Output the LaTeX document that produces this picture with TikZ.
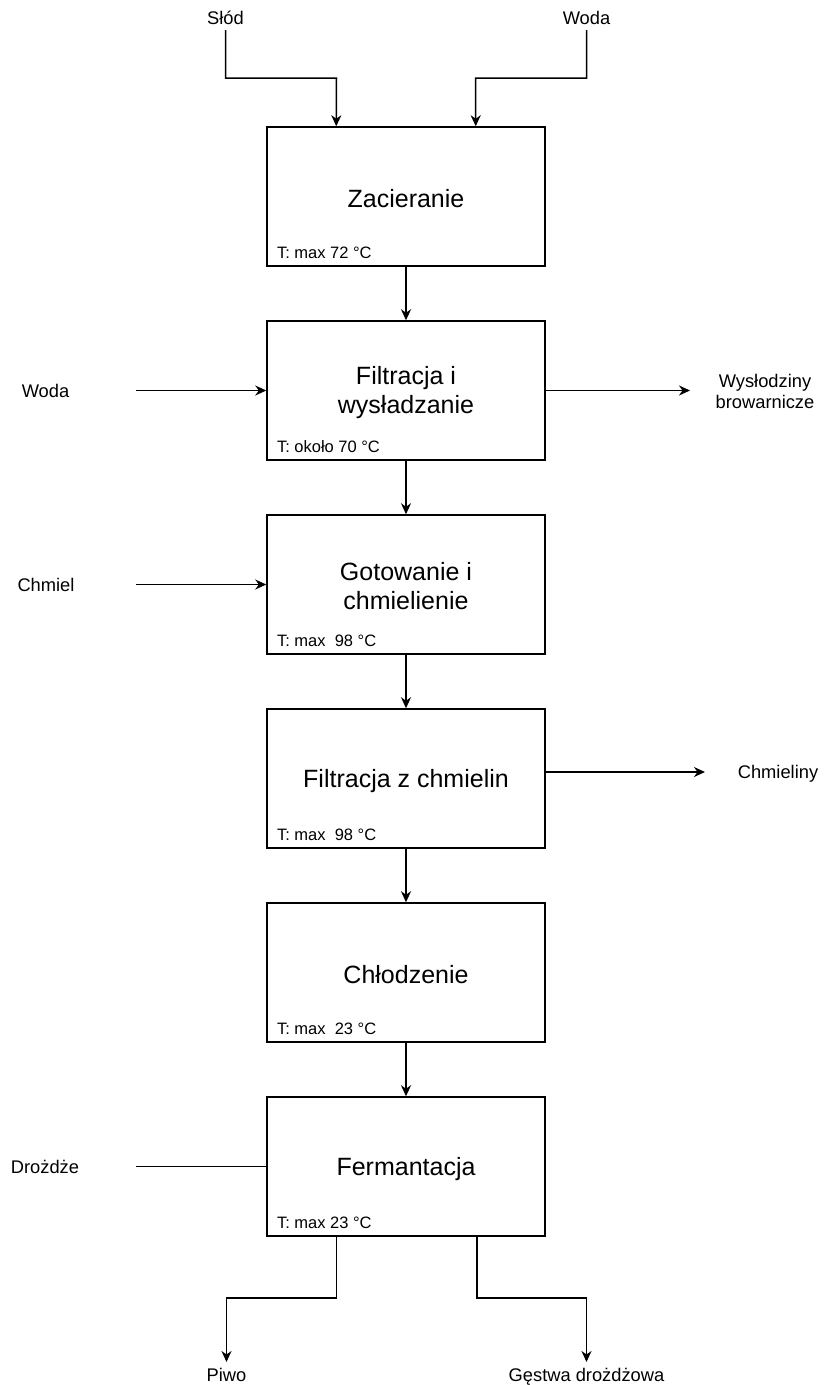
\documentclass[tikz,border=0pt]{standalone}
\usepackage{fontspec}
\setmainfont{Liberation Sans}
\usetikzlibrary{arrows.meta,calc}
\newcommand\tstrut{\rule[-1.8pt]{0pt}{24.8pt}}
\begin{document}
\begin{tikzpicture}[x=1pt,y=-1pt,
  line width=1.5pt,
  arr/.style={-{Stealth[length=11pt,width=10pt,inset=3.5pt]}},
  procbox/.style={draw,rectangle,minimum width=278pt,minimum height=139pt,inner sep=0pt,
     align=center,font=\fontsize{25}{29}\selectfont},
  tlabel/.style={anchor=base west,inner sep=0pt,font=\fontsize{16.5}{19}\selectfont},
  outlabel/.style={inner sep=0pt,align=center,font=\fontsize{18.3}{21}\selectfont},
  outbase/.style={outlabel,anchor=base}]
\useasboundingbox (0,0) rectangle (824,1385);

% process boxes
\node[procbox] (b1) at (406,196.5) {\tstrut Zacieranie};
\node[procbox] (b2) at (406,390.5) {\tstrut Filtracja i\\\tstrut wysładzanie};
\node[procbox] (b3) at (406,584.5) {\tstrut Gotowanie i\\\tstrut chmielienie};
\node[procbox] (b4) at (406,778.5) {\tstrut Filtracja z chmielin};
\node[procbox] (b5) at (406,972.5) {\tstrut Chłodzenie};
\node[procbox] (b6) at (406,1166.5) {\tstrut Fermantacja};

% temperature labels
\node[tlabel] (t1) at ($(b1.south west)+(10,-8)$) {T: max 72 °C};
\node[tlabel] (t2) at ($(b2.south west)+(10,-8)$) {T: około 70 °C};
\node[tlabel] (t3) at ($(b3.south west)+(10,-8)$) {T: max~~98 °C};
\node[tlabel] (t4) at ($(b4.south west)+(10,-8)$) {T: max~~98 °C};
\node[tlabel] (t5) at ($(b5.south west)+(10,-8)$) {T: max~~23 °C};
\node[tlabel] (t6) at ($(b6.south west)+(10,-8)$) {T: max 23 °C};

% outside labels
\node[outbase] (slod) at (225.5,24.5) {Słód};
\node[outbase] (wodaT) at (586.5,24.5) {Woda};
\node[outbase] (wodaL) at (45.5,397.5) {Woda};
\node[outbase] (chmiel) at (46,591.5) {Chmiel};
\node[outbase] (drozdze) at (45,1173) {Drożdże};
\node[outlabel] (wyslo) at (765,391) {Wysłodziny\\browarnicze};
\node[outbase] (chmieliny) at (778,778.5) {Chmieliny};
\node[outbase] (piwo) at (226.5,1381) {Piwo};
\node[outbase] (gestwa) at (586.5,1381) {Gęstwa drożdżowa};

% helper coordinates
\coordinate (slodS) at (225.5,30);
\coordinate (wodaTS) at (586.5,30);
\coordinate (wodaLE) at (136,390.5);
\coordinate (chmielE) at (136,584.5);
\coordinate (drozdzeE) at (136,1166.5);
\coordinate (wysloW) at (690,390.5);
\coordinate (chmielinyW) at (705,772);
\coordinate (piwoN) at (226.5,1362);
\coordinate (gestwaN) at (586.5,1362);

% top inputs
\draw[arr] (slodS) |- (336.5,78) -- ($(b1.north west)+(70,0)$);
\draw[arr] (wodaTS) |- (475.5,78) -- ($(b1.north east)+(-70,0)$);

% main chain
\draw[arr] (b1) -- (b2);
\draw[arr] (b2) -- (b3);
\draw[arr] (b3) -- (b4);
\draw[arr] (b4) -- (b5);
\draw[arr] (b5) -- (b6);

% side inputs / outputs
\draw[arr] (wodaLE) -- (b2.west);
\draw[arr] (chmielE) -- (b3.west);
\draw (drozdzeE) -- (b6.west);
\draw[arr] (b2.east) -- (wysloW);
\draw[arr] ($(b4.east)+(0,-6.5)$) -- (chmielinyW);

% bottom outputs
\draw[arr] ($(b6.south west)+(70,0)$) |- (226.5,1298) -- (piwoN);
\draw[arr] ($(b6.south east)+(-69,0)$) |- (586.5,1298) -- (gestwaN);
\end{tikzpicture}
\end{document}
